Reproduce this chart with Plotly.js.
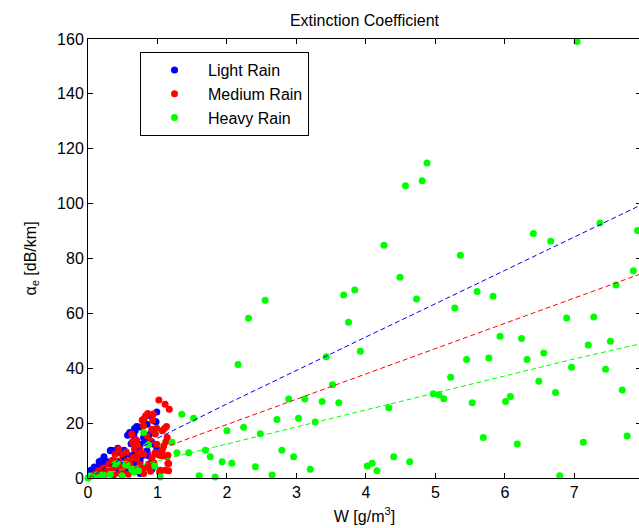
<!DOCTYPE html>
<html>
<head>
<meta charset="utf-8">
<script src="https://cdn.plot.ly/plotly-3.0.1.min.js"></script>
<style>
html, body { margin: 0; padding: 0; overflow: hidden; background: #fff; }
#chart { width: 641px; height: 528px; }
</style>
</head>
<body>
<div id="chart"></div>
<script>
// Light rain samples
const lightX = [0.99,0.95,0.90,0.70,0.68,0.60,0.66,0.80,0.85,0.92,0.95,0.92,0.37,0.32,0.42,0.46,0.56,0.63,0.68,0.75,0.18,0.27,0.22,0.13,0.08,0.06,0.18,0.37,0.46,0.51,0.75,0.85,0.87,0.78,0.66,0.56,0.42,0.27,0.75,0.82,0.99,0.92,0.03,0.10,0.15,0.72,0.88,0.62,0.52,0.04,0.09,0.16,0.23,0.33,0.43,0.52,0.57,0.67,0.74,0.91,0.98];
const lightY = [24.1,20.8,22.7,18.8,17.2,16.6,15.4,14.8,19.6,17.2,12.3,3.2,9.9,9.9,10.1,9.3,8.7,8.1,9.7,12.3,6.2,6.0,5.0,3.8,2.6,1.6,3.2,6.2,5.0,7.5,6.2,9.9,8.1,8.1,5.0,2.6,2.0,2.0,1.6,13.5,10.5,6.2,0.8,1.2,2.0,11.0,15.8,12.5,4.2,2.8,4.0,5.9,7.7,10.1,10.8,10.1,15.6,18.0,18.6,13.2,20.5];

// Medium rain samples
const mediumX = [1.02,1.11,1.17,0.83,0.94,0.78,0.99,0.92,1.13,1.07,0.97,0.63,0.70,0.85,0.90,0.75,0.99,1.09,1.14,0.97,1.00,1.07,1.14,1.16,1.11,1.16,1.04,0.92,0.80,0.87,0.75,0.70,0.56,0.44,0.44,0.39,0.49,0.54,0.63,0.70,0.80,0.58,0.46,0.37,0.30,0.22,0.15,0.10,0.06,0.25,0.37,0.80,0.67,0.66,0.85,0.86,0.81,0.93,1.10,0.64,0.71,1.12,1.07,1.03,1.15,1.15,1.03,0.30,0.35,0.50,0.60,0.65,0.90,0.95,0.20,0.45,0.55,0.72,0.78];
const mediumY = [28.4,26.9,25.1,22.7,23.3,21.1,18.1,17.8,18.8,17.2,16.0,16.0,13.8,15.4,13.5,10.5,12.3,11.7,14.8,9.3,8.7,8.1,7.7,5.3,2.8,2.6,2.8,7.5,8.7,5.0,5.0,6.9,6.2,6.2,10.5,8.7,8.7,4.4,3.8,2.6,1.6,1.4,1.6,3.8,5.0,3.6,2.6,1.4,0.8,1.4,1.1,19.0,10.5,12.3,3.8,23.5,21.7,21.1,18.0,13.2,12.0,13.2,10.1,8.3,8.3,5.3,2.2,2.5,6.5,3.0,5.5,7.5,2.5,5.5,1.8,4.2,9.5,8.5,3.5];

// Heavy rain samples
const heavyX = [0.00,0.03,0.13,0.18,0.22,0.32,0.39,0.42,0.49,0.54,0.56,0.63,0.66,0.73,0.80,0.87,0.96,1.04,1.21,1.28,1.35,1.45,1.52,1.60,1.69,1.76,1.83,1.93,2.00,2.07,2.16,2.24,2.31,2.41,2.48,2.55,2.65,2.72,2.79,2.89,2.96,3.03,3.12,3.20,3.27,3.37,3.43,3.52,3.61,3.68,3.75,3.84,3.92,4.02,4.09,4.16,4.26,4.33,4.40,4.49,4.57,4.63,4.73,4.81,4.88,4.97,5.05,5.12,5.22,5.28,5.36,5.45,5.53,5.60,5.69,5.77,5.83,5.93,6.01,6.08,6.18,6.24,6.32,6.41,6.49,6.56,6.66,6.73,6.79,6.89,6.96,7.04,7.13,7.20,7.28,7.37,7.45,7.52,7.60,7.69,7.76,7.85,7.91];
const heavyY = [0.0,0.7,1.1,1.0,1.1,1.4,5.0,5.3,0.8,4.7,5.0,3.2,2.2,2.6,16.6,12.1,4.4,0.4,13.0,9.2,23.2,9.2,21.8,0.8,10.1,7.7,0.4,5.9,17.2,5.4,41.4,18.5,58.2,4.1,16.1,64.8,1.1,21.3,10.1,28.8,7.7,21.8,28.8,3.2,20.4,27.9,44.2,34.0,27.4,66.7,56.8,68.5,46.2,4.4,5.4,2.6,84.8,25.6,7.7,73.2,106.5,5.9,65.2,108.3,114.8,30.7,30.3,28.9,36.7,62.0,81.2,43.2,27.4,68.0,14.8,43.7,66.2,51.7,27.9,29.7,12.4,50.8,43.2,89.1,35.3,45.6,86.3,31.2,0.8,58.3,40.4,159.1,13.0,48.5,58.7,92.9,39.6,49.8,70.3,32.1,15.3,75.5,90.2];

// Fitted trend lines
const fitX = [0, 1, 2, 3, 4, 5, 6, 7, 8];
const lightFit = [0, 14.5, 27.0, 39.3, 51.4, 63.5, 75.6, 87.8, 100.0];
const mediumFit = [0, 10.2, 19.5, 28.7, 38.0, 47.2, 56.4, 65.6, 74.8];
const heavyFit = [0, 6.2, 12.4, 18.6, 24.8, 31.0, 37.2, 43.4, 49.2];

const seriesNames = ['Light Rain', 'Medium Rain', 'Heavy Rain'];
const colors = ['rgb(0,0,255)', 'rgb(255,0,0)', 'rgb(0,255,0)'];
const xTicks = [0, 1, 2, 3, 4, 5, 6, 7];
const yTicks = [0, 20, 40, 60, 80, 100, 120, 140, 160];

const font = 'Liberation Sans, Arial, Helvetica, sans-serif';

function pts(x, y, i) {
  return {
    x: x, y: y, type: 'scatter', mode: 'markers', name: seriesNames[i],
    marker: { color: colors[i], size: 7, line: { width: 0 } },
    cliponaxis: false, hoverinfo: 'x+y'
  };
}
function fit(y, i) {
  return {
    x: fitX, y: y, type: 'scatter', mode: 'lines', showlegend: false,
    line: { color: colors[i], width: 1, dash: '5px,3px' }, hoverinfo: 'skip'
  };
}

const data = [
  pts(lightX, lightY, 0), pts(mediumX, mediumY, 1), pts(heavyX, heavyY, 2),
  fit(lightFit, 0), fit(mediumFit, 1), fit(heavyFit, 2)
];

const axisCommon = {
  showline: true, linecolor: '#000', linewidth: 1, mirror: 'ticks',
  ticks: 'inside', ticklen: 5, tickcolor: '#000', tickwidth: 1,
  showgrid: false, zeroline: false,
  tickfont: { family: font, size: 16, color: '#000' }
};

const layout = {
  width: 641, height: 528,
  margin: { l: 88, r: 0, t: 39, b: 50 },
  paper_bgcolor: '#fff', plot_bgcolor: '#fff',
  font: { family: font, size: 16, color: '#000' },
  title: {
    text: 'Extinction Coefficient', font: { family: font, size: 16, color: '#000' },
    xref: 'paper', x: 0.5, xanchor: 'center',
    yref: 'container', y: 1 - 20 / 528, yanchor: 'middle'
  },
  xaxis: Object.assign({}, axisCommon, {
    range: [0, 7.96], tickvals: xTicks, ticktext: xTicks.map(String),
    title: { text: 'W [g/m<sup>3</sup>]', font: { family: font, size: 16, color: '#000' }, standoff: 10 }
  }),
  yaxis: Object.assign({}, axisCommon, {
    range: [0, 160], tickvals: yTicks, ticktext: yTicks.map(String),
    title: { text: 'α<sub>e</sub> [dB/km]', font: { family: font, size: 16, color: '#000' }, standoff: 16 }
  }),
  showlegend: true,
  legend: {
    x: (140 - 88) / 553, xanchor: 'left', y: (478 - 52) / 439, yanchor: 'top',
    bgcolor: '#fff', bordercolor: '#000', borderwidth: 1,
    font: { family: font, size: 16, color: '#000' },
    itemwidth: 57, traceorder: 'normal'
  }
};

Plotly.newPlot('chart', data, layout, { displayModeBar: false, staticPlot: true });
</script>
</body>
</html>
